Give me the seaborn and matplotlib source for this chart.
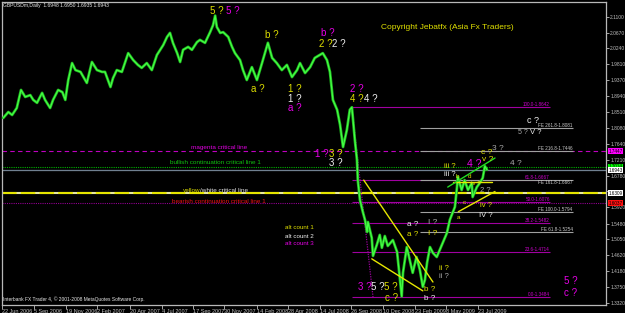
import matplotlib
matplotlib.use("Agg")
import matplotlib.pyplot as plt
import matplotlib.dates as mdates
import matplotlib.transforms as mtransforms
import pandas as pd
import seaborn as sns

# ---------------- data ----------------
dates = [
    "2006-06-24", "2006-07-06", "2006-07-15", "2006-07-26", "2006-08-05", "2006-08-15", "2006-08-27",
    "2006-09-03", "2006-09-12", "2006-09-24", "2006-10-01", "2006-10-13", "2006-10-20", "2006-11-01",
    "2006-11-11", "2006-11-18", "2006-11-25", "2006-12-04", "2006-12-12", "2006-12-24", "2006-12-31",
    "2007-01-08", "2007-01-20", "2007-02-01", "2007-02-13", "2007-02-20", "2007-03-05", "2007-03-11",
    "2007-03-20", "2007-04-01", "2007-04-16", "2007-04-28", "2007-05-09", "2007-05-18", "2007-05-30",
    "2007-06-11", "2007-06-23", "2007-07-08", "2007-07-17", "2007-07-24", "2007-07-31", "2007-08-10",
    "2007-08-17", "2007-08-24", "2007-09-05", "2007-09-14", "2007-09-26", "2007-10-03", "2007-10-15",
    "2007-10-27", "2007-11-03", "2007-11-08", "2007-11-12", "2007-11-20", "2007-11-27", "2007-12-09",
    "2007-12-18", "2007-12-25", "2008-01-06", "2008-01-13", "2008-01-22", "2008-02-03", "2008-02-15",
    "2008-02-27", "2008-03-12", "2008-03-22", "2008-04-02", "2008-04-14", "2008-04-26", "2008-05-08",
    "2008-05-20", "2008-05-27", "2008-06-08", "2008-06-20", "2008-07-01", "2008-07-13", "2008-07-20",
    "2008-07-30", "2008-08-06", "2008-08-13", "2008-08-23", "2008-08-30", "2008-09-06", "2008-09-15",
    "2008-09-22", "2008-09-27", "2008-10-04", "2008-10-09", "2008-10-11", "2008-10-16", "2008-10-23",
    "2008-10-28", "2008-11-02", "2008-11-04", "2008-11-13", "2008-11-16", "2008-11-25", "2008-12-02",
    "2008-12-07", "2008-12-14", "2008-12-21", "2009-01-02", "2009-01-12", "2009-01-23", "2009-01-26",
    "2009-02-04", "2009-02-11", "2009-02-18", "2009-02-27", "2009-03-07", "2009-03-14", "2009-03-19",
    "2009-03-24", "2009-03-31", "2009-04-07", "2009-04-16", "2009-04-23", "2009-04-30", "2009-05-10",
    "2009-05-17", "2009-05-29", "2009-06-03", "2009-06-05", "2009-06-14", "2009-06-21", "2009-06-29",
    "2009-07-08", "2009-07-10", "2009-07-20", "2009-07-27", "2009-08-03", "2009-08-08", "2009-08-13",
]
prices = [
    1.835, 1.851, 1.843, 1.862, 1.911, 1.892, 1.897,
    1.884, 1.876, 1.903, 1.884, 1.862, 1.884, 1.911,
    1.905, 1.884, 1.938, 1.984, 1.965, 1.960, 1.946,
    1.930, 1.987, 1.965, 1.960, 1.960, 1.919, 1.943,
    1.965, 1.960, 2.011, 1.992, 1.979, 1.971, 1.984,
    1.965, 2.006, 2.033, 2.055, 2.066, 2.039, 2.011,
    1.987, 2.020, 2.028, 2.020, 2.041, 2.047, 2.039,
    2.068, 2.087, 2.113, 2.082, 2.066, 2.068, 2.055,
    2.028, 2.011, 1.992, 1.965, 1.938, 1.973, 1.938,
    1.984, 2.039, 1.998, 1.984, 1.965, 1.979, 1.946,
    1.965, 1.984, 1.957, 1.973, 1.998, 2.006, 2.011,
    1.992, 1.960, 1.884, 1.857, 1.816, 1.756, 1.802,
    1.857, 1.864, 1.775, 1.721, 1.666, 1.612, 1.579,
    1.558, 1.525, 1.552, 1.509, 1.460, 1.490, 1.517,
    1.482, 1.514, 1.487, 1.503, 1.471, 1.350, 1.414,
    1.484, 1.449, 1.414, 1.457, 1.422, 1.376, 1.395,
    1.441, 1.484, 1.468, 1.457, 1.476, 1.495, 1.522,
    1.558, 1.593, 1.647, 1.675, 1.639, 1.666, 1.639,
    1.658, 1.620, 1.647, 1.658, 1.672, 1.704, 1.6943,
]

price_ticks = [2.1100, 2.0670, 2.0240, 1.9810, 1.9370, 1.8940, 1.8510, 1.8080, 1.7640, 1.7210,
               1.6780, 1.6350, 1.5920, 1.5480, 1.5050, 1.4620, 1.4180, 1.3750, 1.3320]
tick_dates = ["2006-06-22", "2006-09-05", "2006-11-19", "2007-02-02", "2007-04-20", "2007-07-04",
              "2007-09-17", "2007-11-30", "2008-02-14", "2008-04-28", "2008-07-14", "2008-09-26",
              "2008-12-10", "2009-02-23", "2009-05-08", "2009-07-23"]
tick_labels = ["22 Jun 2006", "5 Sep 2006", "19 Nov 2006", "2 Feb 2007", "20 Apr 2007", "4 Jul 2007",
               "17 Sep 2007", "30 Nov 2007", "14 Feb 2008", "28 Apr 2008", "14 Jul 2008", "26 Sep 2008",
               "10 Dec 2008", "23 Feb 2009", "8 May 2009", "23 Jul 2009"]

critical_names = ["magenta critical line", "bullish continuation critical line 1",
                  "yellow/white critical line", "bearish continuation critical line 1"]
critical_levels = [1.7447, 1.7014, 1.6309, 1.6037]
bid_price = 1.6943
header = "GBPUSDm,Daily  1.6948 1.6950 1.6935 1.6943"

fib_names = ["100.0", "61.8", "50.0", "38.2", "23.6", "0.0"]
fib_levels = [1.8642, 1.6667, 1.6076, 1.5482, 1.4714, 1.3484]
fe_names = ["261.8", "216.8", "161.8", "100.0", "61.8"]
fe_levels = [1.8081, 1.7446, 1.6667, 1.5794, 1.5254]

# trend lines (start date, start price, end date, end price)
yellow_trends = [("2008-10-25", 1.666, "2009-04-07", 1.389),
                 ("2008-11-13", 1.452, "2009-03-14", 1.365),
                 ("2009-06-06", 1.580, "2009-09-01", 1.635),
                 ("2009-05-24", 1.662, "2009-08-24", 1.662)]
green_trends = [("2009-05-12", 1.647, "2009-09-01", 1.726)]
magenta_dotted = [("2008-09-27", 1.8642, "2008-11-16", 1.3484)]

Y, M, W, G = "#dede00", "#e600e6", "#eeeeee", "#a8a8a8"
wave_labels = [
    ("2007-11-12", 2.1255, "5 ?", Y, 7), ("2007-12-20", 2.1255, "5 ?", M, 7),
    ("2008-03-22", 2.060, "b ?", Y, 7), ("2008-02-18", 1.914, "a ?", Y, 7),
    ("2008-05-15", 1.914, "1 ?", Y, 7), ("2008-05-15", 1.886, "1 ?", W, 7),
    ("2008-05-15", 1.862, "a ?", M, 7), ("2008-08-01", 2.066, "b ?", M, 7),
    ("2008-07-27", 2.036, "2 ?", Y, 7), ("2008-08-27", 2.036, "2 ?", W, 7),
    ("2008-10-09", 1.914, "2 ?", M, 7), ("2008-10-09", 1.886, "4 ?", Y, 7),
    ("2008-11-11", 1.886, "4 ?", W, 7), ("2008-07-18", 1.737, "1 ?", M, 7),
    ("2008-08-20", 1.737, "3 ?", Y, 7), ("2008-08-20", 1.7125, "3 ?", W, 7),
    ("2009-11-30", 1.829, "c ?", W, 6.5), ("2009-11-05", 1.794, "5 ?", G, 5),
    ("2009-12-07", 1.794, "V ?", W, 5.5), ("2009-08-13", 1.740, "c ?", Y, 6),
    ("2009-09-08", 1.753, "3 ?", G, 6), ("2009-05-17", 1.704, "iii ?", Y, 5.5),
    ("2009-05-17", 1.680, "iii ?", W, 5.5), ("2009-07-15", 1.710, "4 ?", M, 7.5),
    ("2009-08-15", 1.721, "v ?", Y, 6), ("2009-10-20", 1.710, "4 ?", G, 6),
    ("2009-08-10", 1.596, "iv ?", Y, 5.5), ("2009-08-10", 1.5685, "IV ?", W, 5.5),
    ("2009-02-18", 1.544, "a ?", W, 5.8), ("2009-02-18", 1.518, "a ?", Y, 5.8),
    ("2009-04-07", 1.5495, "I ?", G, 6), ("2009-04-07", 1.520, "I ?", Y, 6),
    ("2008-10-28", 1.3756, "3 ?", M, 7), ("2008-11-28", 1.3756, "5 ?", W, 7),
    ("2008-12-29", 1.3756, "5 ?", Y, 7), ("2008-12-31", 1.3457, "c ?", Y, 7),
    ("2009-03-31", 1.3700, "b ?", Y, 5.8), ("2009-03-31", 1.3445, "b ?", W, 5.8),
    ("2009-05-03", 1.4245, "ii ?", Y, 5.5), ("2009-05-03", 1.4028, "ii ?", G, 5.5),
    ("2010-02-27", 1.392, "5 ?", M, 7), ("2010-02-27", 1.3593, "c ?", M, 7),
    ("2009-06-05", 1.676, "b", Y, 4.5), ("2009-07-03", 1.677, "d", Y, 4.5),
    ("2009-07-18", 1.658, "iv ?", Y, 4.5), ("2009-08-10", 1.639, "2 ?", G, 5.5),
    ("2009-06-21", 1.604, "c", Y, 4.5), ("2009-06-07", 1.563, "a", Y, 4.5),
]
alt_counts = ["alt count 1", "alt count 2", "alt count 3"]

# ---------------- figure ----------------
sns.set_theme(style="dark")
plt.rcParams["font.family"] = ["Liberation Sans", "DejaVu Sans"]
FONT = ["Liberation Sans", "DejaVu Sans"]

fig = plt.figure(figsize=(6.25, 3.13), dpi=100, facecolor="black")
ax = fig.add_axes([2 / 625, 8.5 / 313, 604 / 625, 302.5 / 313])
ax.set_facecolor("black")

df = pd.DataFrame({"date": pd.to_datetime(dates), "price": prices})

def dn(s):
    return mdates.date2num(pd.Timestamp(s))

x_left, x_right = dn("2006-06-21"), dn("2010-05-22")

# critical horizontal lines (full width)
ax.axhline(critical_levels[0], color="#c000c0", lw=0.8, ls=(0, (4, 3)), zorder=1)
ax.axhline(critical_levels[1], color="#00b000", lw=0.8, ls=(0, (1, 1)), zorder=1)
ax.axhline(bid_price, color="#708090", lw=0.9, zorder=1)
ax.axhline(critical_levels[2], color="#e8e8a0", lw=1.5, zorder=1)
ax.axhline(critical_levels[2], color="#e6e600", lw=1.5, ls=(0, (7, 2)), zorder=1)
ax.axhline(critical_levels[3], color="#900090", lw=0.8, ls=(0, (1, 1)), zorder=1)

# fibonacci retracements
fib_x0, fib_x1 = dn("2008-09-27"), dn("2010-01-09")
ax.hlines(fib_levels, fib_x0, fib_x1, colors="#a000a0", lw=0.8, zorder=1)
for name, lev in zip(fib_names, fib_levels):
    ax.text(fib_x1, lev, f"{name}-{lev:.4f}", color="#d000d0", fontsize=3.3, ha="right",
            va="bottom", family=FONT, zorder=3)
fe_x0, fe_x1 = dn("2009-03-07"), dn("2010-03-04")
ax.hlines(fe_levels, fe_x0, fe_x1, colors="#a0a0a0", lw=0.8, zorder=1)
for name, lev in zip(fe_names, fe_levels):
    va = "top" if lev in fib_levels else "bottom"
    ax.text(fe_x1, lev, f"FE {name}-{lev:.4f}", color="#c8c8c8", fontsize=3.3, ha="right",
            va=va, family=FONT, zorder=3)

# price line
sns.lineplot(data=df, x="date", y="price", ax=ax, color="#1fb01f", linewidth=2.0, zorder=4)
sns.lineplot(data=df, x="date", y="price", ax=ax, color="#44ff44", linewidth=0.9, zorder=5)

# trend lines
for d0, p0, d1, p1 in yellow_trends:
    ax.plot([dn(d0), dn(d1)], [p0, p1], color="#e6e600", lw=1.0, zorder=6)
for d0, p0, d1, p1 in green_trends:
    ax.plot([dn(d0), dn(d1)], [p0, p1], color="#22dd22", lw=1.0, zorder=6)
for d0, p0, d1, p1 in magenta_dotted:
    ax.plot([dn(d0), dn(d1)], [p0, p1], color="#990099", lw=0.9, ls=(0, (1, 1)), zorder=3)

# critical line labels
ax.text(dn("2007-09-11"), 1.754, critical_names[0], color="#e000e0", fontsize=4.6,
        ha="left", va="center", family=FONT, zorder=7)
ax.text(dn("2007-07-24"), 1.7133, critical_names[1], color="#10c010", fontsize=4.6,
        ha="left", va="center", family=FONT, zorder=7)
t_y = ax.text(dn("2007-08-23"), 1.639, "yellow", color="#d8d800", fontsize=4.6,
              ha="left", va="center", family=FONT, zorder=7)
ax.annotate(critical_names[2][len("yellow"):], xy=(1, 0.5), xycoords=t_y, color="#e0e0e0",
            fontsize=4.6, ha="left", va="center", family=FONT, zorder=7)
ax.text(dn("2007-07-28"), 1.609, critical_names[3], color="#ee1111", fontsize=4.6,
        ha="left", va="center", family=FONT, zorder=7)

# wave labels
for d, p, s, c, fs in wave_labels:
    ax.text(dn(d), p, s, color=c, fontsize=fs, ha="center", va="center", family=FONT, zorder=8)

for s, c, p in zip(alt_counts, [Y, W, M], [1.536, 1.514, 1.4924]):
    ax.text(dn("2008-04-21"), p, s, color=c, fontsize=4.5, ha="left", va="center",
            family=FONT, zorder=8)

ax.text(dn("2008-12-05"), 2.082, "Copyright Jebatfx (Asia Fx Traders)", color="#e0e000",
        fontsize=6.0, ha="left", va="center", family=FONT, zorder=8)
ax.text(0.002, 0.990, header, transform=ax.transAxes, color="#e8e8e8", fontsize=3.6,
        ha="left", va="center", family=FONT, zorder=8)
ax.text(0.002, 0.018, "Interbank FX Trader 4, \u00a9 2001-2008 MetaQuotes Software Corp.",
        transform=ax.transAxes, color="#e8e8e8", fontsize=3.5, ha="left", va="center",
        family=FONT, zorder=8)

# right-axis value boxes (small vertical nudges keep the stacked boxes readable)
ytr = ax.get_yaxis_transform()
box_levels = [critical_levels[0], critical_levels[1], bid_price, critical_levels[2],
              critical_levels[3]]
box_colors = ["#ff00ff", "#00ff00", "#ffffff", "#ffffff", "#ff1010"]
box_nudge = [0.0, 0.0014, -0.0012, 0.0, 0.0]
for lev, fc, dy in zip(box_levels, box_colors, box_nudge):
    ax.text(1.004, lev + dy, f"{lev:.4f}", transform=ytr, fontsize=3.3, color="black",
            ha="left", va="center", family=FONT, clip_on=False, zorder=9,
            bbox=dict(boxstyle="square,pad=0.12", fc=fc, ec="none"))

# axes
ax.set_xlim(x_left, x_right)
ax.set_ylim(1.3279, 2.1500)
ax.yaxis.tick_right()
ax.set_yticks(price_ticks)
# the 1.6350 label is hidden under the yellow/white value box in the reference
ax.set_yticklabels(["" if abs(v - 1.6350) < 1e-6 else f"{v:.4f}" for v in price_ticks],
                   fontsize=3.5, color="#d0d0d0", family=FONT)
ax.set_xticks([dn(d) for d in tick_dates])
ax.set_xticklabels(tick_labels, fontsize=4.0, color="#d0d0d0", ha="left", family=FONT)
offset = mtransforms.ScaledTranslation(1.5 / 100, 0, fig.dpi_scale_trans)
for lab in ax.get_xticklabels():
    lab.set_transform(lab.get_transform() + offset)
ax.tick_params(axis="x", length=3, width=0.6, colors="#c0c0c0", pad=0.5, direction="out",
               bottom=True)
ax.tick_params(axis="y", length=2, width=0.6, colors="#c0c0c0", pad=1, right=True, left=False)
ax.set_xlabel("")
ax.set_ylabel("")
ax.grid(False)
for sp in ax.spines.values():
    sp.set_color("#b8b8b8")
    sp.set_linewidth(0.9)
    sp.set_visible(True)

fig.savefig("out.png", dpi=100, facecolor="black")
